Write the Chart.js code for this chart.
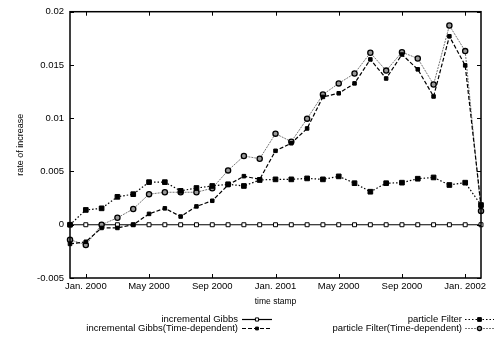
<!DOCTYPE html>
<html>
<head>
<meta charset="utf-8">
<script src="https://cdn.jsdelivr.net/npm/chart.js@4"></script>
<style>
  html, body { margin: 0; padding: 0; background: #fff; }
  #wrap { width: 495px; height: 339px; }
</style>
</head>
<body>
<div id="wrap"><canvas id="c" width="495" height="339"></canvas></div>
<script>
// ---- data ----
const months = ['Dec. 1999','Jan. 2000','Feb. 2000','Mar. 2000','Apr. 2000','May 2000','Jun. 2000','Jul. 2000','Aug. 2000','Sep 2000','Oct. 2000','Nov. 2000','Dec. 2000','Jan. 2001','Feb. 2001','Mar. 2001','Apr. 2001','May 2001','Jun. 2001','Jul. 2001','Aug. 2001','Sep 2001','Oct. 2001','Nov. 2001','Dec. 2001','Jan. 2002','Feb. 2002'];
const xTickIndex = [1, 5, 9, 13, 17, 21, 25];
const xTickLabels = ['Jan. 2000','May 2000','Sep 2000','Jan. 2001','May 2000','Sep 2000','Jan. 2002'];
const yTicks = [-0.005, 0, 0.005, 0.01, 0.015, 0.02];
const yTickLabels = ['-0.005','0','0.005','0.01','0.015','0.02'];

const seriesNames = ['incremental Gibbs','incremental Gibbs(Time-dependent)','particle Filter','particle Filter(Time-dependent)'];
const incGibbs   = [0,0,0,0,0,0,0,0,0,0,0,0,0,0,0,0,0,0,0,0,0,0,0,0,0,0,0];
const incGibbsTD = [-0.0018,-0.0016,-0.0003,-0.0003,0,0.00102,0.00154,0.00077,0.00172,0.00225,0.00373,0.00456,0.00426,0.00694,0.00765,0.00904,0.0120,0.01234,0.01327,0.01552,0.01373,0.01598,0.01459,0.01204,0.01769,0.01496,0.0018];
const partFilter = [0,0.00139,0.00154,0.00262,0.00287,0.0040,0.0040,0.00318,0.00345,0.00364,0.0038,0.00364,0.0042,0.00426,0.00426,0.00435,0.00426,0.00454,0.0039,0.0031,0.0039,0.00395,0.00432,0.00444,0.00373,0.00395,0.00185];
const partFilterTD = [-0.0014,-0.0019,0,0.00065,0.00148,0.00287,0.00305,0.00305,0.00305,0.00343,0.0051,0.00645,0.0062,0.00855,0.0078,0.00996,0.01222,0.01327,0.0142,0.01614,0.01447,0.0162,0.01561,0.01317,0.0187,0.0163,0.0013];

const FONT = '"Liberation Sans", Arial, Helvetica, sans-serif';
const toXY = arr => arr.map((v, i) => ({ x: i, y: v }));

const datasets = [
  { label: seriesNames[0], data: toXY(incGibbs), borderColor: '#000', borderWidth: 1.2, borderDash: [],
    pointStyle: 'rect', pointRadius: 2.8, pointBackgroundColor: '#fff', pointBorderColor: '#000', pointBorderWidth: 1, order: 4 },
  { label: seriesNames[1], data: toXY(incGibbsTD), borderColor: '#000', borderWidth: 1.2, borderDash: [4, 2],
    pointStyle: 'rect', pointRadius: 2.5, pointBackgroundColor: '#000', pointBorderColor: '#000', pointBorderWidth: 1, order: 2 },
  { label: seriesNames[2], data: toXY(partFilter), borderColor: '#000', borderWidth: 1.2, borderDash: [1.5, 2],
    pointStyle: 'rect', pointRadius: 3.3, pointBackgroundColor: '#000', pointBorderColor: '#000', pointBorderWidth: 1, order: 1 },
  { label: seriesNames[3], data: toXY(partFilterTD), borderColor: '#666', borderWidth: 0.9, borderDash: [2, 1],
    pointStyle: 'circle', pointRadius: 2.6, pointBackgroundColor: '#999', pointBorderColor: '#000', pointBorderWidth: 1.3, order: 3 }
];

const framePlugin = {
  id: 'frame',
  afterDatasetsDraw(chart) {
    const { ctx, chartArea: { left, right, top, bottom }, scales: { x, y } } = chart;
    ctx.save();
    ctx.strokeStyle = '#000';
    ctx.lineWidth = 1.5;
    ctx.setLineDash([]);
    ctx.strokeRect(left, top, right - left, bottom - top);
    ctx.lineWidth = 1;
    const L = 4;
    ctx.beginPath();
    x.ticks.forEach(t => {
      const px = Math.round(x.getPixelForValue(t.value)) + 0.5;
      ctx.moveTo(px, bottom); ctx.lineTo(px, bottom - L);
      ctx.moveTo(px, top); ctx.lineTo(px, top + L);
    });
    y.ticks.forEach(t => {
      const py = Math.round(y.getPixelForValue(t.value)) + 0.5;
      ctx.moveTo(left, py); ctx.lineTo(left + L, py);
      ctx.moveTo(right, py); ctx.lineTo(right - L, py);
    });
    ctx.stroke();
    ctx.restore();
  }
};

const legendPlugin = {
  id: 'customLegend',
  afterDraw(chart) {
    const { ctx } = chart;
    const cols = [ { textRight: 238, x0: 242, x1: 272 }, { textRight: 462, x0: 465, x1: 494 } ];
    const rows = [319, 328];
    ctx.save();
    ctx.font = '9.5px ' + FONT;
    ctx.textAlign = 'right';
    ctx.textBaseline = 'middle';
    chart.data.datasets.forEach((ds, i) => {
      const c = cols[Math.floor(i / 2)];
      const yy = rows[i % 2];
      ctx.fillStyle = '#000';
      ctx.fillText(ds.label, c.textRight, yy);
      ctx.save();
      ctx.strokeStyle = ds.borderColor;
      ctx.lineWidth = ds.borderWidth;
      ctx.setLineDash(ds.borderDash || []);
      ctx.beginPath();
      ctx.moveTo(c.x0, yy + 0.5); ctx.lineTo(c.x1, yy + 0.5);
      ctx.stroke();
      ctx.setLineDash([]);
      ctx.fillStyle = ds.pointBackgroundColor;
      ctx.strokeStyle = ds.pointBorderColor;
      ctx.lineWidth = ds.pointBorderWidth;
      Chart.helpers.drawPoint(ctx, { pointStyle: ds.pointStyle, radius: ds.pointRadius * 0.8, borderWidth: ds.pointBorderWidth, rotation: 0 }, (c.x0 + c.x1) / 2, yy + 0.5);
      ctx.restore();
    });
    ctx.restore();
  }
};

new Chart(document.getElementById('c'), {
  type: 'line',
  data: { datasets },
  options: {
    responsive: false,
    animation: false,
    devicePixelRatio: 1,
    layout: { padding: { top: 8, right: 14, bottom: 31, left: 0 } },
    plugins: { legend: { display: false }, tooltip: { enabled: false } },
    elements: { line: { tension: 0, fill: false } },
    clip: false,
    scales: {
      x: {
        type: 'linear', min: 0, max: 26,
        grid: { display: false, drawTicks: false },
        border: { display: false },
        afterBuildTicks: s => { s.ticks = xTickIndex.map(v => ({ value: v })); },
        afterFit: s => { s.height = 30; },
        ticks: {
          autoSkip: false, maxRotation: 0, padding: 3, color: '#000',
          font: { family: FONT, size: 9.5 },
          callback: v => xTickLabels[xTickIndex.indexOf(v)]
        },
        title: { display: true, text: 'time stamp', color: '#000', font: { family: FONT, size: 8.5 }, padding: { top: 0, bottom: 1 } }
      },
      y: {
        type: 'linear', min: -0.005, max: 0.02,
        grid: { display: false, drawTicks: false },
        border: { display: false },
        afterBuildTicks: s => { s.ticks = yTicks.map(v => ({ value: v })); },
        afterFit: s => { s.width = 70; },
        ticks: {
          padding: 6, color: '#000',
          font: { family: FONT, size: 9.5 },
          callback: v => yTickLabels[yTicks.indexOf(v)]
        },
        title: { display: true, text: 'rate of increase', color: '#000', font: { family: FONT, size: 9 }, padding: { top: 15, bottom: 0 } }
      }
    }
  },
  plugins: [framePlugin, legendPlugin]
});
</script>
</body>
</html>
